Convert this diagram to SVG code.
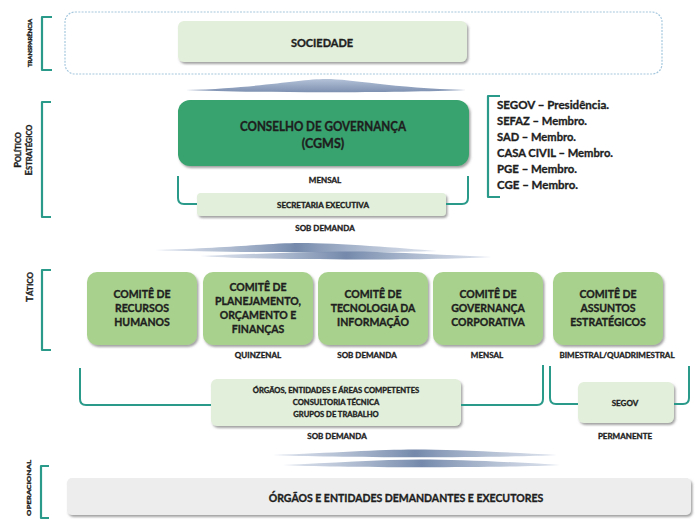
<svg xmlns="http://www.w3.org/2000/svg" width="698" height="525" viewBox="0 0 698 525">
<defs>
<filter id="sh" x="-10%" y="-20%" width="125%" height="150%">
<feDropShadow dx="1.5" dy="2" stdDeviation="1.3" flood-color="#555" flood-opacity="0.55"/>
</filter>
<linearGradient id="ag" x1="0" y1="0" x2="0" y2="1">
<stop offset="0" stop-color="#b4c2d8"/>
<stop offset="1" stop-color="#7d90b0"/>
</linearGradient>
<linearGradient id="ah" x1="0" y1="0" x2="1" y2="0">
<stop offset="0" stop-color="#c7d1e2" stop-opacity="0.6"/>
<stop offset="0.5" stop-color="#7489ab"/>
<stop offset="1" stop-color="#c7d1e2" stop-opacity="0.6"/>
</linearGradient>
</defs>
<style>
text{font-family:Lato,"Liberation Sans",sans-serif;font-weight:bold;fill:#1e1e1e;stroke:#1e1e1e;stroke-width:0.35px;text-anchor:middle}
.brk{fill:none;stroke:#2a9a8a;stroke-width:2.2;stroke-linejoin:round}
.con{fill:none;stroke:#2a9a8a;stroke-width:2}
.pale{fill:#e2efda;filter:url(#sh)}
.mid{fill:#a9d18e;filter:url(#sh)}
.dark{fill:#37a36e;filter:url(#sh)}
.gray{fill:#ededed;filter:url(#sh)}
.arr{fill:url(#ah)}
.c{font-size:10.5px}
.s{font-size:8px}
.m{font-size:12px;text-anchor:start}
</style>

<g id="levels">
<path class="brk" d="M52,17 L42,17 L42,70 L52,70"/>
<text transform="translate(32,43) rotate(-90)" font-size="4.6" stroke-width="0.15" textLength="48" lengthAdjust="spacingAndGlyphs">TRANSPARÊNCIA</text>
<path class="brk" d="M51,102 L42,102 L42,217 L51,217"/>
<text transform="translate(21,150) rotate(-90)" font-size="7.5"><tspan font-size="9.5">P</tspan>OLÍTICO</text>
<text transform="translate(32,150) rotate(-90)" font-size="7.5"><tspan font-size="9.5">E</tspan>STRATÉGICO</text>
<path class="brk" d="M51,270 L42,270 L42,350 L51,350"/>
<text transform="translate(33,287) rotate(-90)" font-size="8"><tspan font-size="10">T</tspan>ÁTICO</text>
<path class="brk" d="M49,466 L41,466 L41,518 L49,518"/>
<text transform="translate(31,488) rotate(-90)" font-size="6.3" stroke-width="0.2" textLength="56" lengthAdjust="spacingAndGlyphs">OPERACIONAL</text>
</g>

<g id="transparencia">
<rect x="65" y="12" width="597" height="62" rx="10" fill="#fff" stroke="#a6c8de" stroke-width="1.2" stroke-dasharray="2 1.3"/>
</g>

<g id="sociedade">
<rect class="pale" x="178" y="21" width="289" height="41" rx="6"/>
<text x="322" y="47" font-size="11">SOCIEDADE</text>
</g>

<g id="conselho">
<rect class="dark" x="178" y="100" width="291" height="66" rx="12"/>
<text x="323" y="131" font-size="12.5" textLength="166" lengthAdjust="spacingAndGlyphs">CONSELHO DE GOVERNANÇA</text>
<text x="323" y="148" font-size="12.5">(CGMS)</text>
<text x="325" y="183" class="s">MENSAL</text>
</g>

<g id="membros">
<path class="brk" d="M500,96 L488,96 L488,197 L500,197"/>
<text class="m" x="497" y="109" textLength="112" lengthAdjust="spacingAndGlyphs">SEGOV – Presidência.</text>
<text class="m" x="497" y="125" textLength="90" lengthAdjust="spacingAndGlyphs">SEFAZ – Membro.</text>
<text class="m" x="497" y="141" textLength="79" lengthAdjust="spacingAndGlyphs">SAD – Membro.</text>
<text class="m" x="497" y="157" textLength="116" lengthAdjust="spacingAndGlyphs">CASA CIVIL – Membro.</text>
<text class="m" x="497" y="173" textLength="80" lengthAdjust="spacingAndGlyphs">PGE – Membro.</text>
<text class="m" x="497" y="189" textLength="81" lengthAdjust="spacingAndGlyphs">CGE – Membro.</text>
</g>

<g id="secretaria">
<rect class="pale" x="197" y="193" width="249" height="23" rx="4"/>
<text x="323" y="208" class="s">SECRETARIA EXECUTIVA</text>
<text x="325" y="231" class="s">SOB DEMANDA</text>
</g>

<g id="comite-rh">
<rect class="mid" x="87" y="272" width="110" height="73" rx="10"/>
<text class="c" x="142" y="298">COMITÊ DE</text>
<text class="c" x="142" y="312">RECURSOS</text>
<text class="c" x="142" y="326">HUMANOS</text>
</g>
<g id="comite-pof">
<rect class="mid" x="203" y="272" width="110" height="73" rx="10"/>
<text class="c" x="258" y="291">COMITÊ DE</text>
<text class="c" x="258" y="305">PLANEJAMENTO,</text>
<text class="c" x="258" y="319">ORÇAMENTO E</text>
<text class="c" x="258" y="333">FINANÇAS</text>
<text class="s" x="258" y="358">QUINZENAL</text>
</g>
<g id="comite-ti">
<rect class="mid" x="318" y="272" width="110" height="73" rx="10"/>
<text class="c" x="373" y="298">COMITÊ DE</text>
<text class="c" x="373" y="312">TECNOLOGIA DA</text>
<text class="c" x="373" y="326">INFORMAÇÃO</text>
<text class="s" x="367" y="358">SOB DEMANDA</text>
</g>
<g id="comite-gc">
<rect class="mid" x="433" y="272" width="110" height="73" rx="10"/>
<text class="c" x="488" y="298">COMITÊ DE</text>
<text class="c" x="488" y="312">GOVERNANÇA</text>
<text class="c" x="488" y="326">CORPORATIVA</text>
<text class="s" x="487" y="358">MENSAL</text>
</g>
<g id="comite-ae">
<rect class="mid" x="553" y="272" width="110" height="73" rx="10"/>
<text class="c" x="608" y="298">COMITÊ DE</text>
<text class="c" x="608" y="312">ASSUNTOS</text>
<text class="c" x="608" y="326">ESTRATÉGICOS</text>
<text class="s" x="617" y="358">BIMESTRAL/QUADRIMESTRAL</text>
</g>

<g id="orgaos-apoio">
<rect class="pale" x="211" y="379" width="250" height="47" rx="6"/>
<text x="336" y="393" font-size="7.6">ÓRGÃOS, ENTIDADES E ÁREAS COMPETENTES</text>
<text x="336" y="405" font-size="7.6">CONSULTORIA TÉCNICA</text>
<text x="336" y="417" font-size="7.6">GRUPOS DE TRABALHO</text>
<text class="s" x="337" y="439">SOB DEMANDA</text>
</g>

<g id="segov">
<rect class="pale" x="578" y="382" width="96" height="41" rx="6"/>
<text class="s" x="625" y="406">SEGOV</text>
<text class="s" x="625" y="439">PERMANENTE</text>
</g>

<g id="operacional">
<rect class="gray" x="67" y="478" width="624" height="37" rx="5"/>
<text x="406" y="502" font-size="10.5">ÓRGÃOS E ENTIDADES DEMANDANTES E EXECUTORES</text>
</g>

<g id="connectors">
<path fill="url(#ag)" d="M186,90 C260,88 300,79 326,79 C352,79 392,88 466,90 C400,93 250,93 186,90 Z"/>
<path class="arr" d="M155,250 C230,248 270,243 300,243 C340,243 400,248 437,251 C380,253 230,253 155,250 Z"/>
<path class="arr" d="M200,256 C250,254 310,251.5 350,251.5 C390,251.5 440,255 492,257 C440,260.5 260,260.5 200,256 Z"/>
<path class="arr" d="M273,455 C330,453 380,449.5 415,449.5 C450,449.5 500,452 557,455 C500,458 330,458 273,455 Z"/>
<path class="arr" d="M283,465 C330,463 380,459.5 420,459.5 C460,459.5 510,462 560,465 C510,468 330,468 283,465 Z"/>
<path class="con" d="M178,176 L178,198 Q178,204 184,204 L197,204"/>
<path class="con" d="M468,176 L468,198 Q468,204 462,204 L446,204"/>
<path class="con" d="M80,368 L80,399 Q80,405 86,405 L211,405"/>
<path class="con" d="M543,365 L543,399 Q543,405 537,405 L461,405"/>
<path class="con" d="M550,366 L550,398 Q550,404 556,404 L578,404"/>
<path class="con" d="M689,366 L689,398 Q689,404 683,404 L674,404"/>
</g>
</svg>
